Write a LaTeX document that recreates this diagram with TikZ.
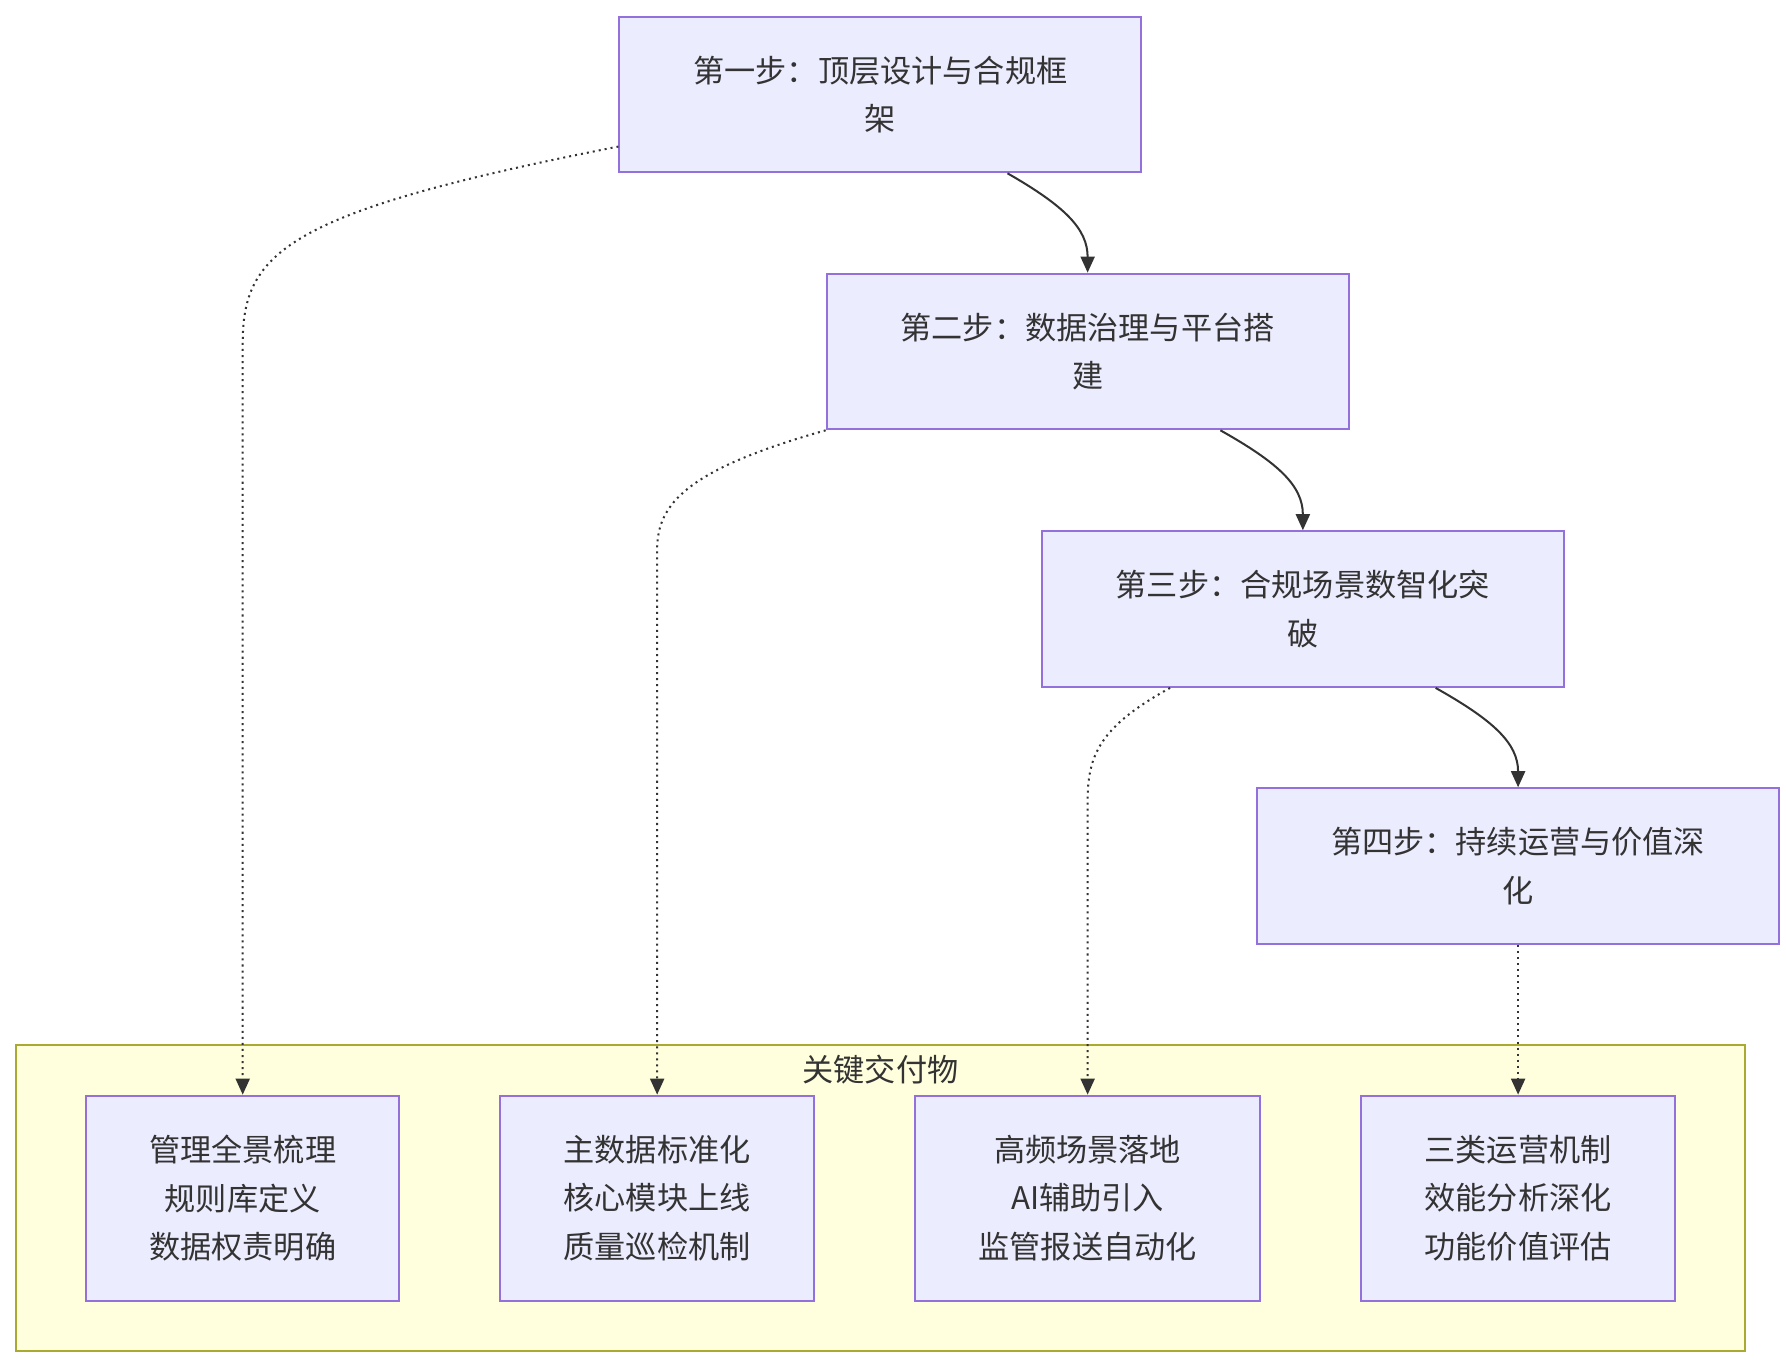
\documentclass[tikz,border=0pt]{standalone}
\usepackage{fontspec}
\setmainfont{Noto Sans CJK SC}
\usetikzlibrary{arrows.meta}
\definecolor{stepfill}{HTML}{ECECFF}
\definecolor{stepline}{HTML}{9370DB}
\definecolor{clusfill}{HTML}{FFFFDE}
\definecolor{clusline}{HTML}{AAAA33}
\definecolor{txt}{HTML}{333333}
\tikzset{
	stepbox/.style={draw=stepline, fill=stepfill, line width=1pt, minimum width=9.12cm,
		minimum height=2.72cm, align=center, text=txt, font=\fontsize{15.5}{24}\selectfont},
	deliv/.style={draw=stepline, fill=stepfill, line width=1pt,
		minimum height=3.58cm, align=center, text=txt, font=\fontsize{15.5}{24}\selectfont},
	flow/.style={draw=txt, line width=1pt, -{Triangle[length=8pt,width=7pt]}},
	link/.style={flow, dotted},
}
\begin{document}
\begin{tikzpicture}[x=0.02cm, y=-0.02cm]
	\useasboundingbox (0,0) rectangle (1560,1188);
	\draw [draw=clusline, fill=clusfill, line width=1pt] (14,913) rectangle (1524,1180);
	\node (ctitle) [text=txt, font=\fontsize{15.5}{20}\selectfont] at (769,934) {关键交付物};

	\node (s1) [stepbox] at (769,82.5) {第一步：顶层设计与合规框\\架};
	\node (s2) [stepbox] at (950,307) {第二步：数据治理与平台搭\\建};
	\node (s3) [stepbox] at (1138,532) {第三步：合规场景数智化突\\破};
	\node (s4) [stepbox] at (1326,756.5) {第四步：持续运营与价值深\\化};

	\node (d1) [deliv, minimum width=5.46cm] at (212,1046.5) {管理全景梳理\\规则库定义\\数据权责明确};
	\node (d2) [deliv, minimum width=5.48cm] at (574,1046.5) {主数据标准化\\核心模块上线\\质量巡检机制};
	\node (d3) [deliv, minimum width=6.04cm] at (950,1046.5) {高频场景落地\\AI辅助引入\\监管报送自动化};
	\node (d4) [deliv, minimum width=5.48cm] at (1326,1046.5) {三类运营机制\\效能分析深化\\功能价值评估};

	% main steps
	\draw [flow] (s1.south -| 880,0) .. controls (930,180) and (950,200) .. (s2.north);
	\draw [flow] (s2.south -| 1066,0) .. controls (1116,404) and (1138,424) .. (s3.north);
	\draw [flow] (s3.south -| 1254,0) .. controls (1304,629) and (1326,649) .. (s4.north);

	% deliverables
	\draw [link] (s1.west |- 0,128) .. controls (250,185) and (212,220) .. (212,300) -- (d1.north);
	\draw [link] (s2.south west) .. controls (600,410) and (574,440) .. (574,480) -- (d2.north);
	\draw [link] (s3.south -| 1022,0) .. controls (960,635) and (950,660) .. (950,700) -- (d3.north);
	\draw [link] (s4.south) -- (d4.north);
\end{tikzpicture}
\end{document}
